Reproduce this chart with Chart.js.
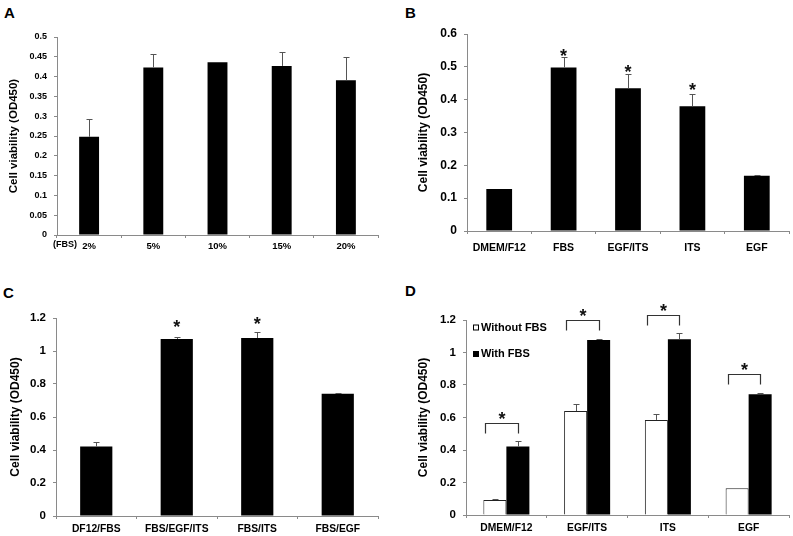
<!DOCTYPE html>
<html>
<head>
<meta charset="utf-8">
<script src="https://cdn.jsdelivr.net/npm/chart.js@4.4.0/dist/chart.umd.min.js"></script>
<style>
  body { margin: 0; background: #fff; width: 793px; height: 536px; position: relative; overflow: hidden;
         font-family: "Liberation Sans", Arial, sans-serif; }
  canvas { position: absolute; }
  .tag { position: absolute; font-weight: bold; font-size: 15px; line-height: 15px; }
</style>
</head>
<body>
<div class="tag" style="left:4px;top:5px">A</div>
<div class="tag" style="left:405px;top:5px">B</div>
<div class="tag" style="left:3px;top:285px">C</div>
<div class="tag" style="left:405px;top:283px">D</div>
<canvas id="chartA" width="400" height="260" style="left:0;top:0"></canvas>
<canvas id="chartB" width="393" height="260" style="left:400px;top:0"></canvas>
<canvas id="chartC" width="400" height="276" style="left:0;top:260px"></canvas>
<canvas id="chartD" width="393" height="276" style="left:400px;top:260px"></canvas>
<script>
var yTitle = "Cell viability (OD450)";

// A - FBS concentration
var catsA = ["2%", "5%", "10%", "15%", "20%"];
var unitA = "(FBS)";
var valsA = [0.248, 0.423, 0.436, 0.427, 0.391];
var errA = [0.294, 0.457, 0.438, 0.461, 0.449];
var yTicksA = [0, 0.05, 0.1, 0.15, 0.2, 0.25, 0.3, 0.35, 0.4, 0.45, 0.5];

// B
var catsB = ["DMEM/F12", "FBS", "EGF/ITS", "ITS", "EGF"];
var valsB = [0.128, 0.498, 0.435, 0.380, 0.168];
var errB = [0.128, 0.529, 0.479, 0.417, 0.171];
var starsB = [null, 0.546, 0.496, 0.442, null];
var yTicksB = [0, 0.1, 0.2, 0.3, 0.4, 0.5, 0.6];

// C
var catsC = ["DF12/FBS", "FBS/EGF/ITS", "FBS/ITS", "FBS/EGF"];
var valsC = [0.421, 1.073, 1.079, 0.741];
var errC = [0.451, 1.083, 1.115, 0.745];
var starsC = [null, 1.170, 1.190, null];
var yTicksC = [0, 0.2, 0.4, 0.6, 0.8, 1, 1.2];

// D
var catsD = ["DMEM/F12", "EGF/ITS", "ITS", "EGF"];
var withoutD = [0.092, 0.640, 0.585, 0.164];
var withoutErrD = [0.096, 0.681, 0.622, 0.164];
var withD = [0.421, 1.077, 1.081, 0.743];
var withErrD = [0.455, 1.083, 1.118, 0.749];
var bracketsD = [0.568, 1.200, 1.231, 0.868];
var starsD = [0.615, 1.251, 1.282, 0.917];
var yTicksD = [0, 0.2, 0.4, 0.6, 0.8, 1, 1.2];

var FONT = '"Liberation Sans", Arial, sans-serif';
var AXIS = '#8a8a8a';
Chart.defaults.font.family = FONT;
Chart.defaults.color = '#000';

function yScale(ticks, size, titleSize, width) {
  return {
    min: 0,
    max: ticks[ticks.length - 1],
    afterBuildTicks: function (s) { s.ticks = ticks.map(function (v) { return { value: v }; }); },
    afterFit: function (s) { s.width = width; },
    ticks: { font: { size: size, weight: 'bold' }, color: '#000', padding: 7,
             callback: function (v) { return String(Math.round(v * 100) / 100); } },
    grid: { drawOnChartArea: false, color: AXIS, tickLength: 3 },
    border: { color: AXIS },
    title: { display: true, text: yTitle, color: '#000', padding: 0,
             font: { size: titleSize, weight: 'bold' } }
  };
}

function xScale(size, pad, height) {
  return {
    offset: true,
    afterFit: function (s) { s.height = height; },
    ticks: { font: { size: size, weight: 'bold' }, color: '#000', padding: pad,
             autoSkip: false, maxRotation: 0 },
    grid: { offset: true, drawOnChartArea: false, color: AXIS, tickLength: 3 },
    border: { color: AXIS }
  };
}

// error bars, asterisks, brackets, extra labels
function extras(opt) {
  return {
    id: 'extras',
    afterDatasetsDraw: function (chart) {
      var ctx = chart.ctx, ys = chart.scales.y, xs = chart.scales.x, area = chart.chartArea;
      ctx.save();
      ctx.lineWidth = 1;
      ctx.strokeStyle = '#555';
      chart.data.datasets.forEach(function (ds, di) {
        chart.getDatasetMeta(di).data.forEach(function (bar, i) {
          var top = Math.round(ys.getPixelForValue(ds.err[i])) + 0.5;
          if (bar.y - top < 0) return;
          var x = Math.round(bar.x) + 0.5;
          ctx.beginPath();
          ctx.moveTo(x, bar.y);
          ctx.lineTo(x, top);
          ctx.moveTo(x - 3, top);
          ctx.lineTo(x + 3, top);
          ctx.stroke();
        });
      });

      var m0 = chart.getDatasetMeta(0).data;
      var m1 = chart.data.datasets.length > 1 ? chart.getDatasetMeta(1).data : null;
      var starX = [];
      m0.forEach(function (b, i) { starX[i] = b.x; });

      if (opt.brackets) {
        ctx.strokeStyle = '#333';
        ctx.lineWidth = 1.2;
        opt.brackets.forEach(function (v, i) {
          var a = m0[i], b = m1[i];
          var x1 = Math.round(a.x - a.width / 2 + 2) + 0.5;
          var x2 = Math.round(b.x) + 0.5;
          var yb = Math.round(ys.getPixelForValue(v)) + 0.5;
          ctx.beginPath();
          ctx.moveTo(x1, yb + 10);
          ctx.lineTo(x1, yb);
          ctx.lineTo(x2, yb);
          ctx.lineTo(x2, yb + 10);
          ctx.stroke();
          starX[i] = (x1 + x2) / 2;
        });
      }

      if (opt.stars) {
        ctx.fillStyle = '#111';
        ctx.font = 'bold 18px ' + FONT;
        ctx.textAlign = 'center';
        ctx.textBaseline = 'alphabetic';
        opt.stars.forEach(function (v, i) {
          if (v == null) return;
          ctx.fillText('*', starX[i], ys.getPixelForValue(v) + 10);
        });
      }

      if (opt.prefix) {
        ctx.fillStyle = '#000';
        ctx.font = 'bold 9px ' + FONT;
        ctx.textAlign = 'right';
        ctx.textBaseline = 'middle';
        ctx.fillText(opt.prefix, xs.getPixelForTick(0) - 12, area.bottom + 9.5);
      }

      if (opt.legend) {
        ctx.font = 'bold 11px ' + FONT;
        ctx.textAlign = 'left';
        ctx.textBaseline = 'middle';
        chart.data.datasets.forEach(function (ds, di) {
          var lx = area.left + 7, ly = area.top + 7.5 + di * 26.5;
          ctx.fillStyle = ds.backgroundColor;
          ctx.fillRect(lx, ly - 3, 6, 6);
          ctx.lineWidth = 1;
          ctx.strokeStyle = '#000';
          ctx.strokeRect(lx + 0.5, ly - 2.5, 5, 5);
          ctx.fillStyle = '#000';
          ctx.fillText(ds.label, lx + 8, ly);
        });
      }
      ctx.restore();
    }
  };
}

var common = { responsive: false, animation: false, events: [] };

new Chart(document.getElementById('chartA'), {
  type: 'bar',
  data: { labels: catsA, datasets: [{ data: valsA, err: errA, backgroundColor: '#000',
          barPercentage: 0.31, categoryPercentage: 1 }] },
  options: Object.assign({}, common, {
    layout: { padding: { left: 7, top: 37, right: 22, bottom: 0 } },
    plugins: { legend: { display: false }, tooltip: { enabled: false } },
    scales: { x: xScale(9.5, 2.4, 25), y: yScale(yTicksA, 9, 11.5, 50) }
  }),
  plugins: [extras({ prefix: unitA })]
});

new Chart(document.getElementById('chartB'), {
  type: 'bar',
  data: { labels: catsB, datasets: [{ data: valsB, err: errB, backgroundColor: '#000',
          barPercentage: 0.40, categoryPercentage: 1 }] },
  options: Object.assign({}, common, {
    layout: { padding: { left: 16, top: 34, right: 4, bottom: 0 } },
    plugins: { legend: { display: false }, tooltip: { enabled: false } },
    scales: { x: xScale(10.5, 7.7, 29), y: yScale(yTicksB, 12, 12, 51) }
  }),
  plugins: [extras({ stars: starsB })]
});

new Chart(document.getElementById('chartC'), {
  type: 'bar',
  data: { labels: catsC, datasets: [{ data: valsC, err: errC, backgroundColor: '#000',
          barPercentage: 0.40, categoryPercentage: 1 }] },
  options: Object.assign({}, common, {
    layout: { padding: { left: 8, top: 58, right: 22, bottom: 0 } },
    plugins: { legend: { display: false }, tooltip: { enabled: false } },
    scales: { x: xScale(10.3, 4.3, 20), y: yScale(yTicksC, 11.5, 12, 48) }
  }),
  plugins: [extras({ stars: starsC })]
});

new Chart(document.getElementById('chartD'), {
  type: 'bar',
  data: { labels: catsD, datasets: [
    { label: 'Without FBS', data: withoutD, err: withoutErrD, backgroundColor: '#fff',
      borderColor: '#222', borderWidth: 1, barPercentage: 1, categoryPercentage: 0.57 },
    { label: 'With FBS', data: withD, err: withErrD, backgroundColor: '#000',
      barPercentage: 1, categoryPercentage: 0.57 }
  ] },
  options: Object.assign({}, common, {
    layout: { padding: { left: 16, top: 60, right: 4, bottom: 0 } },
    plugins: { legend: { display: false }, tooltip: { enabled: false } },
    scales: { x: xScale(10.3, 4.3, 21), y: yScale(yTicksD, 11.5, 12, 50) }
  }),
  plugins: [extras({ stars: starsD, brackets: bracketsD, legend: true })]
});
</script>
</body>
</html>
